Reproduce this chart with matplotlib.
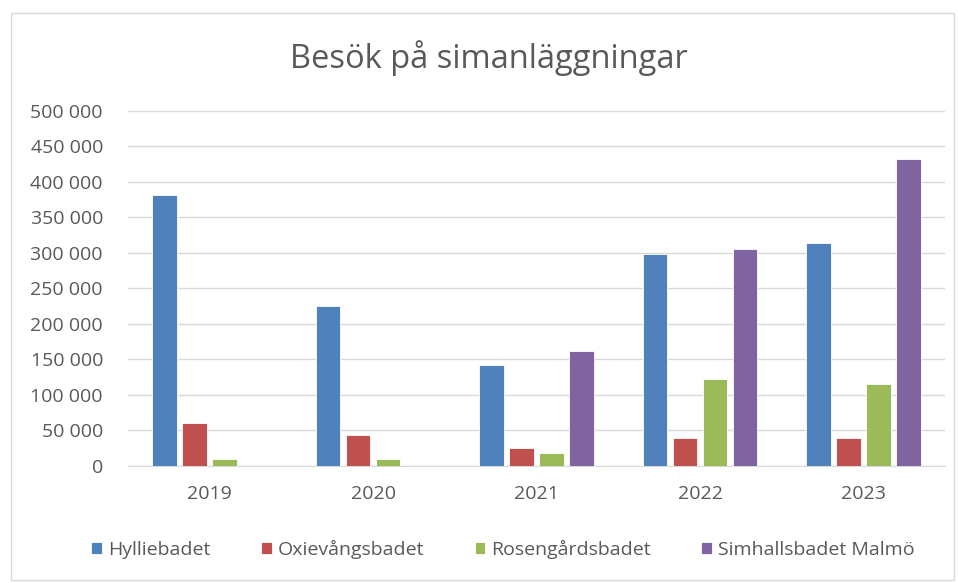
import matplotlib
matplotlib.use("Agg")
import matplotlib.pyplot as plt
import numpy as np
from matplotlib.patches import Rectangle
from matplotlib.ticker import FuncFormatter

## Data
years = ['2019', '2020', '2021', '2022', '2023']
hyllie = [382000, 226000, 142000, 299000, 314000]
oxie = [60000, 43000, 26000, 40000, 40000]
rosen = [9400, 9400, 18000, 122000, 116000]
simhall = [0, 0, 161500, 305000, 432000]

names = ['Hylliebadet', 'Oxievångsbadet', 'Rosengårdsbadet', 'Simhallsbadet Malmö']
colors = ['#4F81BD', '#C0504D', '#9BBB59', '#8064A2']
series = [hyllie, oxie, rosen, simhall]

plt.rcParams['font.family'] = ['Open Sans', 'DejaVu Sans']

fig = plt.figure(figsize=(9.58, 5.83), dpi=100)
## Light frame around the chart
fig.patches.append(Rectangle((0.011, 0.006), 0.985, 0.972, transform=fig.transFigure,
                             fill=False, edgecolor='#D9D9D9', linewidth=1))

ax = fig.add_axes([0.1336, 0.2007, 0.853, 0.609])
x = np.arange(len(years))
pitch = 0.184
width = 0.15
for i, (vals, name, col) in enumerate(zip(series, names, colors)):
    ax.bar(x + (i - 1.5) * pitch, vals, width, color=col, label=name,
           edgecolor='white', linewidth=0.6, zorder=3)

ax.set_xlim(-0.5, len(years) - 0.5)
ax.set_ylim(0, 500000)
ax.set_yticks(np.arange(0, 500001, 50000))
ax.yaxis.set_major_formatter(FuncFormatter(lambda v, p: f'{int(v):,}'.replace(',', ' ')))
ax.set_xticks(x)
ax.set_xticklabels(years)
ax.grid(axis='y', color='#D9D9D9', linewidth=1, zorder=0)
for s in ['top', 'right', 'left']:
    ax.spines[s].set_visible(False)
ax.spines['bottom'].set_color('#D9D9D9')
ax.tick_params(axis='both', length=0, colors='#595959', labelsize=14)
ax.tick_params(axis='y', pad=18)
ax.tick_params(axis='x', pad=14)

fig.text(0.51, 0.9, 'Besök på simanläggningar', ha='center', va='center',
         fontsize=23.5, color='#595959')

leg = fig.legend(loc='center', bbox_to_anchor=(0.525, 0.058), ncol=4, frameon=False,
                 fontsize=14, handlelength=0.55, handleheight=0.55, columnspacing=2.6,
                 handletextpad=0.3)
for t in leg.get_texts():
    t.set_color('#595959')

fig.savefig('out.png', dpi=100)
